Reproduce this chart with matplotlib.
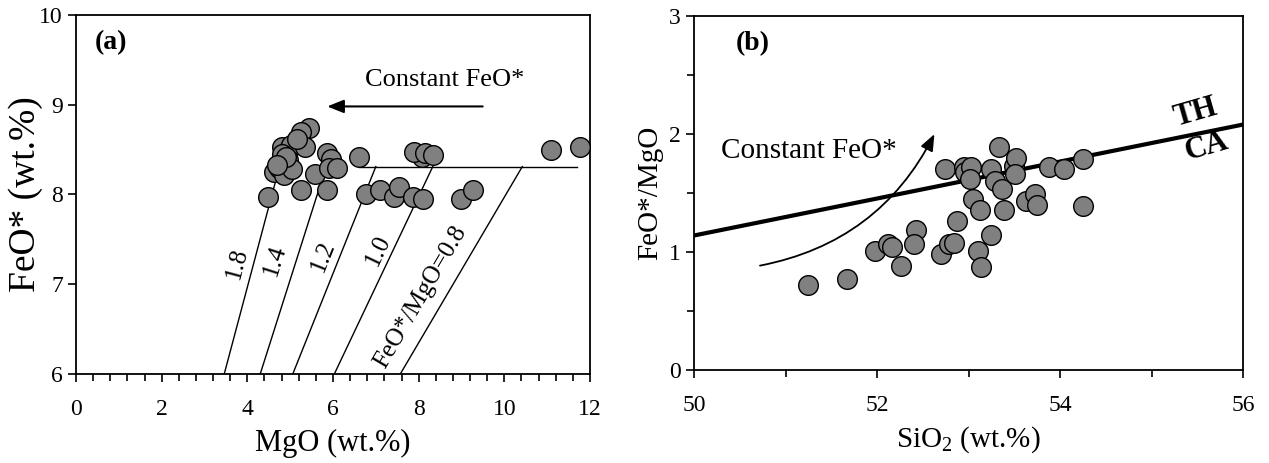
import matplotlib
matplotlib.use("Agg")
import matplotlib.pyplot as plt
from matplotlib.ticker import MultipleLocator
import numpy as np

plt.rcParams['font.family'] = ['Liberation Serif', 'DejaVu Serif']
plt.rcParams['mathtext.fontset'] = 'custom'
plt.rcParams['mathtext.rm'] = 'Liberation Serif'

# panel (a): MgO vs FeO*
mgo = [4.63, 4.49, 5.25, 5.87, 5.44, 5.25, 4.82, 4.97, 5.01, 5.35,
       4.75, 4.85, 4.95, 5.05, 4.80, 4.90, 5.58, 5.87, 5.96, 5.91, 6.10,
       6.60, 6.77, 7.10, 7.43, 7.55, 7.86, 8.11, 8.09, 7.90, 8.14, 8.33,
       9.00, 9.28, 11.10, 11.76, 5.15, 4.70]
feo = [8.25, 7.97, 8.05, 8.05, 8.74, 8.70, 8.53, 8.51, 8.55, 8.53,
       8.30, 8.22, 8.38, 8.28, 8.45, 8.42, 8.23, 8.46, 8.40, 8.29, 8.29,
       8.42, 8.01, 8.05, 7.97, 8.08, 7.97, 7.95, 8.42, 8.47, 8.46, 8.44,
       7.95, 8.05, 8.49, 8.53, 8.62, 8.33]

# ratio lines (MgO at FeO*=6 and at FeO*=8.31)
ratio_labels = ['1.8', '1.4', '1.2', '1.0', 'FeO*/MgO=0.8']
ratio_x0 = [3.46, 4.30, 5.06, 6.03, 7.57]
ratio_x1 = [4.75, 5.84, 7.00, 8.33, 10.42]
ratio_lab_x = [3.75, 4.65, 5.78, 7.06, 8.04]
ratio_lab_y = [7.23, 7.27, 7.31, 7.38, 6.86]
feo_const = 8.31

# panel (b): SiO2 vs FeO*/MgO
sio2 = [51.25, 51.67, 51.98, 52.12, 52.16, 52.26, 52.42, 52.40, 52.70, 52.79,
        52.84, 52.87, 52.74, 52.95, 52.96, 53.03, 53.02, 53.05, 53.13, 53.10,
        53.14, 53.25, 53.24, 53.29, 53.33, 53.37, 53.39, 53.50, 53.52, 53.51,
        53.63, 53.73, 53.75, 53.88, 54.04, 54.25, 54.25]
ratio = [0.72, 0.77, 1.01, 1.07, 1.04, 0.88, 1.19, 1.07, 0.98, 1.07,
         1.08, 1.26, 1.70, 1.72, 1.68, 1.72, 1.62, 1.45, 1.36, 1.01,
         0.87, 1.14, 1.70, 1.60, 1.89, 1.53, 1.36, 1.73, 1.80, 1.66,
         1.43, 1.49, 1.40, 1.72, 1.70, 1.79, 1.39]
th_ca_x = [50, 56]
th_ca_y = [1.14, 2.08]

fig = plt.figure(figsize=(12.69, 4.63), dpi=100)
ax1 = fig.add_axes([0.0599, 0.192, 0.405, 0.776])
ax2 = fig.add_axes([0.547, 0.2009, 0.4325, 0.7645])

dot = dict(s=200, c='#808080', edgecolors='black', linewidths=1.0, zorder=5)

# --- (a)
for x0, x1 in zip(ratio_x0, ratio_x1):
    ax1.plot([x0, x1], [6, feo_const], color='black', lw=1.0)
ax1.plot([6.6, 11.7], [feo_const, feo_const], color='black', lw=1.0)
ax1.scatter(mgo, feo, **dot)

ax1.set_xlim(0, 12)
ax1.set_ylim(6, 10)
ax1.xaxis.set_major_locator(MultipleLocator(2))
ax1.xaxis.set_minor_locator(MultipleLocator(0.4))
ax1.yaxis.set_major_locator(MultipleLocator(1))

# label angles from slopes on screen
fig.canvas.draw()
for lab, x0, x1, lx, ly in zip(ratio_labels, ratio_x0, ratio_x1, ratio_lab_x, ratio_lab_y):
    p0 = ax1.transData.transform((x0, 6))
    p1 = ax1.transData.transform((x1, feo_const))
    ang = np.degrees(np.arctan2(p1[1] - p0[1], p1[0] - p0[0]))
    ax1.text(lx, ly, lab, rotation=ang, fontsize=18, ha='center', va='center',
             rotation_mode='anchor')

ax1.annotate('', xy=(5.8, 8.98), xytext=(9.56, 8.98),
             arrowprops=dict(arrowstyle='-|>,head_length=1.0,head_width=0.4',
                             color='black', lw=1.5))
ax1.text(8.6, 9.27, 'Constant FeO*', fontsize=19, ha='center', va='center')
ax1.text(0.44, 9.69, '(a)', fontsize=20, fontweight='bold', va='center')
ax1.set_xlabel('MgO (wt.%)', fontsize=22, labelpad=6)
ax1.set_ylabel('FeO* (wt.%)', fontsize=27, labelpad=-3)

# --- (b)
ax2.plot(th_ca_x, th_ca_y, color='black', lw=3.0)
ax2.scatter(sio2, ratio, **dot)
ax2.set_xlim(50, 56)
ax2.set_ylim(0, 3)
ax2.xaxis.set_major_locator(MultipleLocator(2))
ax2.xaxis.set_minor_locator(MultipleLocator(1))
ax2.yaxis.set_major_locator(MultipleLocator(1))
ax2.yaxis.set_minor_locator(MultipleLocator(0.5))

ax2.annotate('', xy=(52.64, 2.02), xytext=(50.69, 0.88),
             arrowprops=dict(arrowstyle='-|>,head_length=1.0,head_width=0.4',
                             color='black', lw=1.3,
                             connectionstyle='arc3,rad=0.25'))
ax2.text(51.25, 1.86, 'Constant FeO*', fontsize=21, ha='center', va='center')
ax2.text(50.45, 2.77, '(b)', fontsize=20, fontweight='bold', va='center')
ax2.text(55.48, 2.18, 'TH', fontsize=22, fontweight='bold', rotation=16,
         ha='center', va='center')
ax2.text(55.6, 1.89, 'CA', fontsize=22, fontweight='bold', rotation=16,
         ha='center', va='center')
ax2.set_xlabel('SiO$_2$ (wt.%)', fontsize=21, labelpad=6)
ax2.set_ylabel('FeO*/MgO', fontsize=21, labelpad=4)

for ax in (ax1, ax2):
    ax.tick_params(which='both', direction='out', labelsize=17)
    ax.tick_params(which='major', length=6, width=1.2)
    ax.tick_params(which='minor', length=5, width=1.2)
    for sp in ax.spines.values():
        sp.set_linewidth(1.3)
    ax.tick_params(axis='x', pad=12)

fig.savefig('out.png', dpi=100)
